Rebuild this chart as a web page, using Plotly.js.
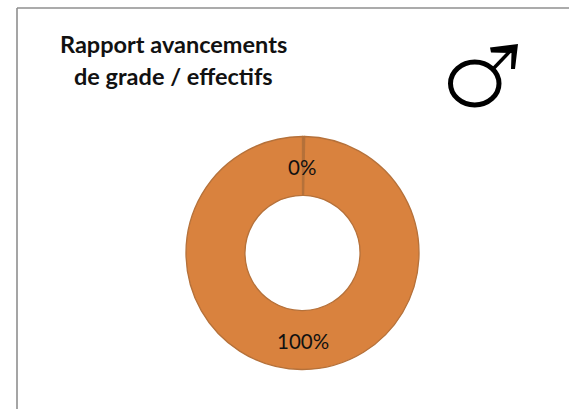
<!DOCTYPE html>
<html>
<head>
<meta charset="utf-8">
<script src="https://cdn.plot.ly/plotly-3.0.1.min.js"></script>
<style>html,body{margin:0;padding:0;background:#fff;overflow:hidden}</style>
</head>
<body>
<div id="chart" style="width:569px;height:409px"></div>
<script>
const categories = ['Avancements', 'Effectifs'];
const values = [0.3, 99.7];
const sliceLabels = ['0%', '100%'];
const titleLines = ['Rapport avancements', 'de grade / effectifs'];

const W = 569, H = 409;
const cx = 302.5, cy = 253, outerR = 116.5;
const px = x => x / W;
const py = y => 1 - y / H;

function paperText(text, x, y, size) {
  return {text, xref: 'paper', yref: 'paper', x: px(x), y: py(y), showarrow: false,
    xanchor: 'center', yanchor: 'middle', align: 'center',
    font: {size, color: '#111', family: 'Lato, sans-serif'}};
}

// Male symbol, drawn in pixel space and converted to paper coordinates
function iconPath(points) {
  return 'M' + points.map(p => px(p[0]) + ',' + py(p[1])).join('L') + 'Z';
}
const iconShapes = [
  {type: 'circle', xref: 'paper', yref: 'paper', x0: px(450.5), x1: px(499), y0: py(105), y1: py(62),
    line: {color: '#000', width: 5}, fillcolor: 'rgba(0,0,0,0)'},
  {type: 'line', xref: 'paper', yref: 'paper', x0: px(494), y0: py(68), x1: px(514), y1: py(47),
    line: {color: '#000', width: 3.5}},
  {type: 'path', xref: 'paper', yref: 'paper', fillcolor: '#000', line: {width: 0},
    path: iconPath([[490, 47.5], [518, 44], [515, 69], [511, 69], [511.5, 53], [491, 52.5]])}
];

Plotly.newPlot('chart', [{
  type: 'pie',
  labels: categories,
  values: values,
  textinfo: 'none',
  hole: 0.494,
  sort: false,
  direction: 'clockwise',
  rotation: 0,
  marker: {colors: ['#b5713a', '#d9823e'], line: {color: '#b5713a', width: 1.3}},
  domain: {x: [px(cx - outerR), px(cx + outerR)], y: [py(cy + outerR), py(cy - outerR)]},
  showlegend: false
}], {
  width: W, height: H,
  margin: {l: 0, r: 0, t: 0, b: 0},
  paper_bgcolor: '#fff',
  shapes: [
    // Frame: only the top and left edges fall inside the page
    {type: 'line', xref: 'paper', yref: 'paper', x0: px(17), x1: 1, y0: py(8), y1: py(8), line: {color: '#8f8f8f', width: 1.6}},
    {type: 'line', xref: 'paper', yref: 'paper', x0: px(17), x1: px(17), y0: 0, y1: py(8), line: {color: '#8f8f8f', width: 1.6}}
  ].concat(iconShapes),
  annotations: [
    paperText('<b>' + titleLines[0] + '</b>', 173, 44, 23.5),
    paperText('<b>' + titleLines[1] + '</b>', 173, 76, 23.5),
    paperText(sliceLabels[0], 302, 167, 20.5),
    paperText(sliceLabels[1], 303, 341, 20.5)
  ]
}, {displayModeBar: false, staticPlot: true});
</script>
</body>
</html>
